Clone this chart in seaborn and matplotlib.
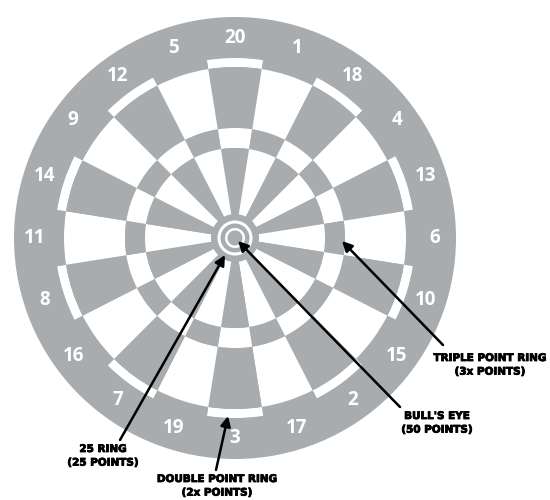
import numpy as np
import matplotlib
matplotlib.use("Agg")
import matplotlib.pyplot as plt
import matplotlib.patheffects as pe
import seaborn as sns
from matplotlib.patches import Wedge, Circle

# ---- data ----
numbers = [20, 1, 18, 4, 13, 6, 10, 15, 2, 17, 3, 19, 7, 16, 8, 11, 14, 9, 12, 5]
ring_names = ["TRIPLE POINT RING", "BULL'S EYE", "25 RING", "DOUBLE POINT RING"]
ring_points = ["(3x POINTS)", "(50 POINTS)", "(25 POINTS)", "(2x POINTS)"]

GRAY = "#a8acaf"
WHITE = "#ffffff"

sns.set_theme(style="white")
plt.rcParams['font.family'] = ['DejaVu Sans']

fig = plt.figure(figsize=(5.5, 5.0), dpi=100)
ax = fig.add_axes([0, 0, 1, 1])
ax.set_xlim(-235, 315)
ax.set_ylim(-262, 238)
ax.set_aspect('equal')
ax.axis('off')

# outer numbers ring
ax.add_patch(Circle((0, 0), 221, facecolor=GRAY, edgecolor='none', zorder=1))

for i, n in enumerate(numbers):
    c = 90 - 18 * i
    t1, t2 = c - 9, c + 9
    main = GRAY if i % 2 == 0 else WHITE
    alt = WHITE if i % 2 == 0 else GRAY
    ax.add_patch(Wedge((0, 0), 180, t1, t2, width=9, facecolor=alt, edgecolor='none', zorder=2))
    ax.add_patch(Wedge((0, 0), 171, t1, t2, width=61, facecolor=main, edgecolor='none', zorder=2))
    ax.add_patch(Wedge((0, 0), 110, t1, t2, width=20, facecolor=alt, edgecolor='none', zorder=2))
    ax.add_patch(Wedge((0, 0), 90, t1, t2, facecolor=main, edgecolor='none', zorder=2))
    a = np.deg2rad(c)
    ax.text(200 * np.cos(a), 200 * np.sin(a), str(n), color='white', fontsize=13.5,
            fontweight='bold', family=['Open Sans', 'DejaVu Sans'],
            ha='center', va='center', zorder=3)

# bull
ax.add_patch(Circle((0, 0), 24, facecolor=GRAY, edgecolor='none', zorder=3))
ax.add_patch(Wedge((0, 0), 17.5, 0, 360, width=3, facecolor=WHITE, edgecolor='none', zorder=4))
ax.add_patch(Wedge((0, 0), 10, 0, 360, width=2.5, facecolor=WHITE, edgecolor='none', zorder=4))

# annotations
tips = [(107, -3), (3, -3), (-10, -17), (-7, -178)]
ends = [(208, -107), (165, -169), (-115, -202), (-19, -232)]
text_pos = [(255, -115), (202, -173), (-132, -206), (-18, -236)]
for tip, end, tp, nm, pt in zip(tips, ends, text_pos, ring_names, ring_points):
    ax.annotate('', xy=tip, xytext=end,
                arrowprops=dict(arrowstyle='-|>,head_length=0.6,head_width=0.3',
                                color='black', lw=1.8, shrinkA=0, shrinkB=0,
                                mutation_scale=10), zorder=6)
    ax.text(tp[0], tp[1], nm + "\n" + pt, ha='center', va='top', fontsize=7.5,
            fontweight='bold', color='black', linespacing=1.45, zorder=6,
            path_effects=[pe.withStroke(linewidth=0.6, foreground='black')])

fig.savefig("out.png", dpi=100, facecolor='white')
